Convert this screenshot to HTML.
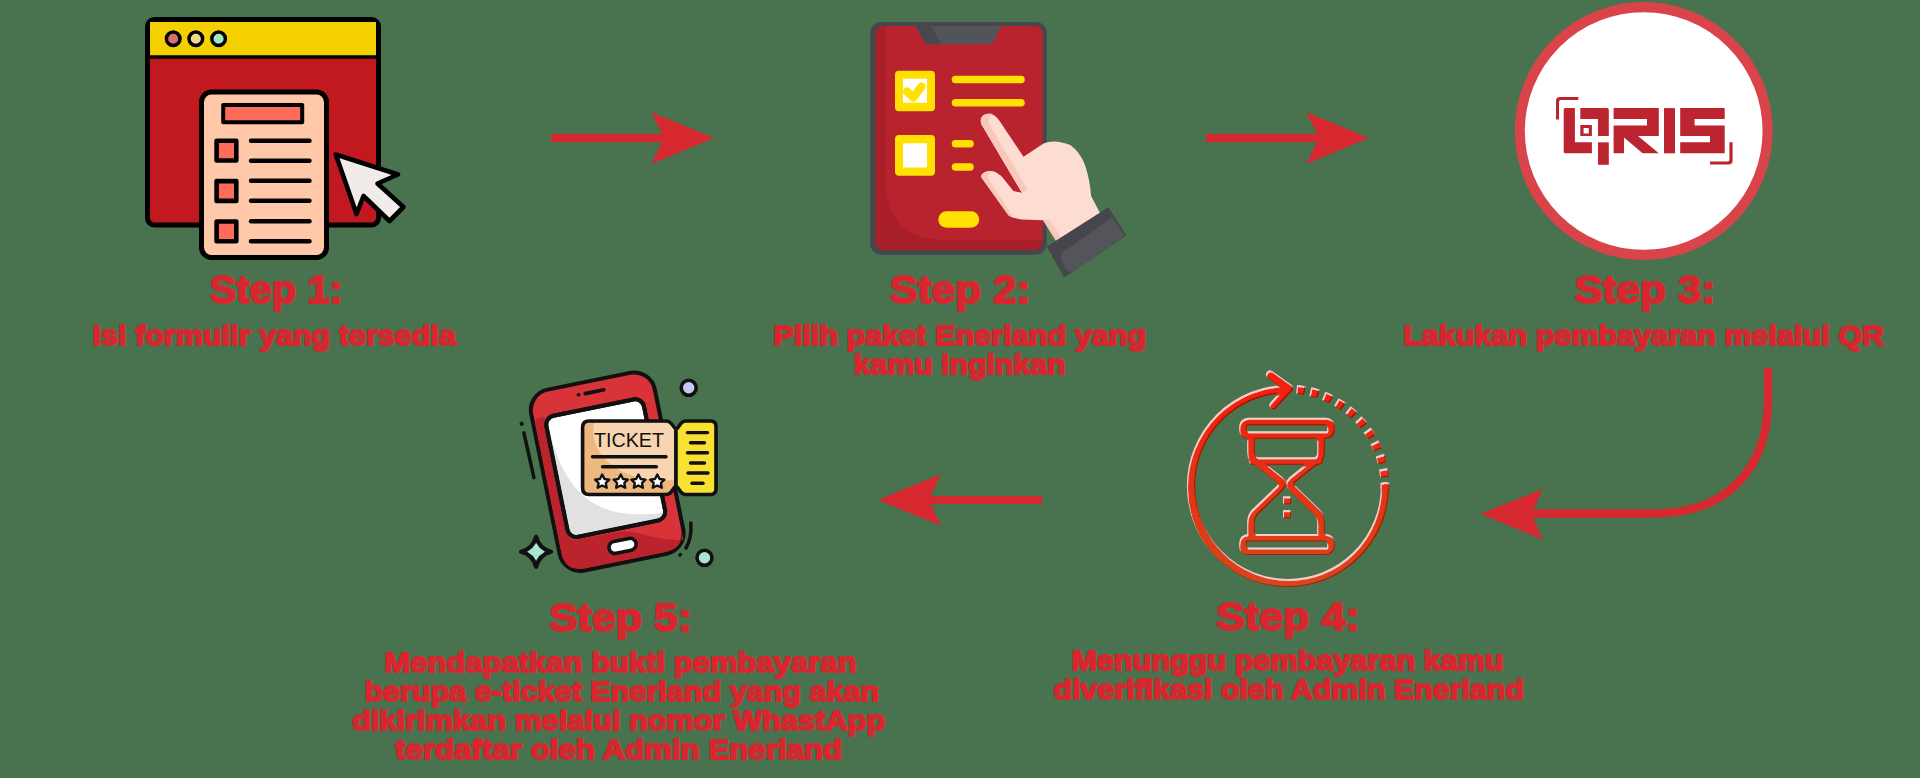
<!DOCTYPE html>
<html><head><meta charset="utf-8">
<style>
html,body{margin:0;padding:0;width:1920px;height:778px;overflow:hidden;background:#48734e;}
svg{display:block;}
text{font-family:"Liberation Sans",sans-serif;font-weight:bold;fill:#d8262f;stroke:#d8262f;stroke-width:1.8px;stroke-linejoin:round;}
</style></head><body>
<svg width="1920" height="778" viewBox="0 0 1920 778">
<defs>
<linearGradient id="hg" gradientUnits="userSpaceOnUse" x1="0" y1="385" x2="0" y2="590">
<stop offset="0" stop-color="#f1200e"/><stop offset="1" stop-color="#d8461c"/>
</linearGradient>
<filter id="emb" x="1150" y="350" width="280" height="260" filterUnits="userSpaceOnUse">
<feOffset in="SourceAlpha" dx="0.6" dy="1.5" result="dn"/>
<feComposite in="SourceAlpha" in2="dn" operator="out" result="topEdge"/>
<feFlood flood-color="#ffffff" flood-opacity="0.6"/>
<feComposite in2="topEdge" operator="in" result="hl"/>
<feOffset in="SourceAlpha" dx="-0.6" dy="-1.5" result="up"/>
<feComposite in="SourceAlpha" in2="up" operator="out" result="botEdge"/>
<feFlood flood-color="#000000" flood-opacity="0.6"/>
<feComposite in2="botEdge" operator="in" result="sh"/>
<feMerge><feMergeNode in="SourceGraphic"/><feMergeNode in="hl"/><feMergeNode in="sh"/></feMerge>
</filter>
</defs>

<!-- ===== STEP 1 ICON ===== -->
<g id="s1" stroke="#000" stroke-linejoin="round">
<rect x="147.5" y="19.5" width="231" height="205.5" rx="7" fill="#c1191f" stroke-width="5"/>
<path d="M150 22 H376 V56.5 H150 Z" fill="#f5d000" stroke="none"/>
<path d="M150 29 Q150 22 157 22 H369 Q376 22 376 29 V56.5 H150Z" fill="#f5d000" stroke="none"/>
<line x1="150" y1="57" x2="376" y2="57" stroke-width="3.5"/>
<circle cx="173.2" cy="38.8" r="6.8" fill="#d9706f" stroke-width="3.5"/>
<circle cx="195.8" cy="38.8" r="6.8" fill="#f5d98a" stroke-width="3.5"/>
<circle cx="218.6" cy="38.8" r="6.8" fill="#9de8c8" stroke-width="3.5"/>
<rect x="201.5" y="92" width="125" height="165.5" rx="10" fill="#ffc8a8" stroke-width="5"/>
<rect x="223.2" y="105" width="79" height="17.2" fill="#ff6b5a" stroke-width="4"/>
<rect x="216.6" y="140.7" width="19.7" height="19.8" fill="#ff6b5a" stroke-width="4.6"/>
<rect x="216.6" y="181.1" width="19.7" height="19.8" fill="#ff6b5a" stroke-width="4.6"/>
<rect x="216.6" y="221.5" width="19.7" height="19.8" fill="#ff6b5a" stroke-width="4.6"/>
<g stroke-width="4.4" stroke-linecap="round">
<line x1="251" y1="140.8" x2="309.5" y2="140.8"/>
<line x1="251" y1="160.8" x2="309.5" y2="160.8"/>
<line x1="251" y1="180.8" x2="309.5" y2="180.8"/>
<line x1="251" y1="200.8" x2="309.5" y2="200.8"/>
<line x1="251" y1="221.3" x2="309.5" y2="221.3"/>
<line x1="251" y1="241.3" x2="309.5" y2="241.3"/>
</g>
<path d="M335.8 154.5 L398 174.5 L377.5 183.5 L403.5 207 L389.5 221 L363.5 196 L356.5 214 Z" fill="#f1ebea" stroke-width="4.6"/>
</g>

<!-- arrows -->
<g fill="#d7272f">
<rect x="551" y="134" width="115" height="8.1"/>
<path d="M651.1 112 L714.1 138 L651.1 164 L664.2 138 Z"/>
<rect x="1206" y="134" width="115" height="8.1"/>
<path d="M1306.1 112 L1369.1 138 L1306.1 164 L1319.2 138 Z"/>
<path d="M1768 368 V400 C1768 470 1725 513.5 1655 513.5 H1530" fill="none" stroke="#d7272f" stroke-width="8.3"/>
<path d="M1480.3 513.8 L1542.9 489 L1531.5 513.8 L1542.9 539.7 Z"/>
</g>

<!-- ===== STEP 2 ICON ===== -->
<g id="s2">
<rect x="870.3" y="22" width="176.4" height="232.7" rx="11" fill="#46474c"/>
<rect x="875.5" y="26" width="167" height="224" rx="8" fill="#a81f2a"/>
<path d="M885.8 26 H1034.5 Q1042.5 26 1042.5 34 V240 H945 Q885.8 240 885.8 180 Z" fill="#b8232e"/>
<path d="M915.3 26 L923.5 40 Q926 44.2 930 44.2 H988 Q992 44.2 994.5 40 L1001.8 26 Z" fill="#535459"/>
<path d="M915.3 26 L923.5 40 Q926 44.2 930 44.2 H941.7 L930.8 26 Z" fill="#47484d"/>
<rect x="895" y="70.8" width="40" height="40.5" rx="4" fill="#ffe000"/>
<rect x="903" y="78.7" width="24" height="24" fill="#fff"/>
<path d="M907 91.5 L913.3 97.5 L921.5 86.5" fill="none" stroke="#ffe000" stroke-width="8" stroke-linecap="round" stroke-linejoin="round"/>
<rect x="895" y="135" width="40" height="40.8" rx="4" fill="#ffe000"/>
<rect x="903" y="143.3" width="24" height="24.2" fill="#fff"/>
<g stroke="#ffe000" stroke-width="7.6" stroke-linecap="round">
<line x1="955.5" y1="79.5" x2="1021" y2="79.5"/>
<line x1="955.5" y1="102.7" x2="1021" y2="102.7"/>
<line x1="955.5" y1="143.8" x2="970" y2="143.8"/>
<line x1="955.5" y1="167" x2="970" y2="167"/>
<line x1="946.5" y1="219.5" x2="971" y2="219.5" stroke-width="16.5"/>
</g>
<!-- hand -->
<path d="M981.4 124.2 Q979 117 985 114.5 Q992 112 998.4 119.2 L1023.5 156.8 L1043.5 143.4 Q1055 139 1070.3 145.1 Q1080 152 1085 165 Q1090 180 1091.1 196 L1100 213.1 L1057 242 L1053.5 235 Q1049 224 1043.5 220.3 L1021.8 219.5 Q1012 218 1008.4 215.3 L980.9 176.8 Q982 171 991.7 171 Q998 172 1003.4 178.5 L1013.4 191 L1021.8 192.7 Z" fill="#fddcd2"/>
<path d="M981.4 124.2 Q979 117 985 114.5 Q989 113 993 114 Q987 117 989 124 L1028 190 L1021.8 192.7 Z" fill="#f8c9bb"/>
<path d="M980.9 176.8 Q982 171 991.7 171 Q986 174 989 180 L1014 218 Q1010 217 1008.4 215.3 Z" fill="#f8c9bb"/>
<path d="M1042.9 220.2 L1050 220.2 L1063 240 L1056.3 241.4 Z" fill="#f8c9bb"/>
<path d="M1046.7 246.5 L1108.4 207.3 L1126.4 235.6 L1064.1 277.4 Z" fill="#46474c"/>
<path d="M1066 250 L1112.2 217.5 L1125 236 L1073 271.5 Q1068 273 1065 268 L1061 258 Q1060 253 1066 250 Z" fill="#54555a"/>
</g>

<!-- ===== STEP 3 ICON ===== -->
<g id="s3">
<circle cx="1643.7" cy="131" r="123.9" fill="#fff" stroke="#d9444b" stroke-width="10.1"/>
<g fill="#bc2530">
<path d="M1556 119.5 V101 Q1556 97.1 1560 97.1 H1578.3 V100.1 H1561 Q1559 100.1 1559 102 V119.5 Z"/>
<path d="M1732.6 142.3 V160.6 Q1732.6 164.6 1728.6 164.6 H1710 V161.4 H1728 Q1729.4 161.4 1729.4 159.5 V142.3 Z"/>
<path d="M1565 108.1 H1574.9 V142.3 H1591.9 V153.3 H1565 Q1563.7 153.3 1563.7 151.5 V110 Q1563.7 108.1 1565 108.1 Z"/>
<path d="M1580.3 108.1 H1607 Q1608.8 108.1 1608.8 110 V135.9 H1598 V119.1 H1580.3 Z"/>
<path d="M1580.3 124.9 H1591.9 V135.9 H1580.3 Z M1583.6 128 V133.4 H1588.8 V128 Z" fill-rule="evenodd"/>
<rect x="1598" y="142.3" width="10.8" height="22.5"/>
<path d="M1613.6 108.1 H1658.8 V135.9 H1638 L1658.8 153.3 H1642.6 L1624 137.5 V153.3 H1613.6 V125.5 H1647 V119.1 H1613.6 Z"/>
<rect x="1664" y="108.1" width="11" height="45.2"/>
<path d="M1680.2 108.1 H1724.7 V119.1 H1694.6 V125.5 H1724.7 V153.3 H1680.2 V142.3 H1710 V135.9 H1680.2 Z"/>
</g>
</g>

<!-- ===== STEP 4 ICON ===== -->
<g id="s4" filter="url(#emb)" fill="none" stroke="url(#hg)" stroke-linecap="round" stroke-linejoin="round">
<path d="M1385 486 A97 97 0 1 1 1288 389" stroke-width="8.2"/>
<path d="M1270 374.5 L1289 388 L1273.5 405" stroke-width="8"/>
<path d="M1296.6 389.4 A97 97 0 0 1 1384.9 489" stroke-width="8.8" stroke-dasharray="8.4 5.6" stroke-linecap="butt"/>
<rect x="1243" y="421.5" width="88" height="13.5" rx="5" stroke-width="7.6"/>
<rect x="1243" y="537.8" width="88" height="13.5" rx="5" stroke-width="7.6"/>
<path d="M1251 438 V452 Q1251 460 1257 461 M1321 438 V452 Q1321 460 1315 461 M1253 461 H1319" stroke-width="7.6"/>
<path d="M1256 461 L1280 480 Q1284 484 1280 488 L1255 512 Q1251 516 1251 522 V534 M1316 461 L1292 480 Q1288 484 1292 488 L1317 512 Q1321 516 1321 522 V534" stroke-width="7.6"/>
<rect x="1283" y="496.3" width="8" height="8" fill="url(#hg)" stroke="none"/>
<rect x="1283" y="510.1" width="8" height="8" fill="url(#hg)" stroke="none"/>
</g>

<!-- ===== STEP 5 ICON ===== -->
<g id="s5" stroke="#111" stroke-linecap="round" stroke-linejoin="round">
<circle cx="688.7" cy="387.8" r="7.5" fill="#c5c8f0" stroke-width="3.6"/>
<circle cx="704.5" cy="557.8" r="7.5" fill="#a8e6cf" stroke-width="3.6"/>
<path d="M536.1 536.8 Q539.1 548.8 551.1 551.8 Q539.1 554.8 536.1 566.8 Q533.1 554.8 521.1 551.8 Q533.1 548.8 536.1 536.8 Z" fill="#a8e6cf" stroke-width="4.2"/>
<line x1="521.6" y1="423.6" x2="521.8" y2="423.8" stroke-width="4"/>
<line x1="523.9" y1="432.9" x2="533.9" y2="477.6" stroke-width="3.5"/>
<path d="M690.8 523 Q692 538 686 548" fill="none" stroke-width="3.5"/><line x1="680" y1="555" x2="680.3" y2="554.6" stroke-width="3.5"/>
<g transform="translate(607.2,471.6) rotate(-11.5)">
<rect x="-63" y="-92.2" width="126" height="184.5" rx="21" fill="#d9333a" stroke-width="4"/>
<path d="M-61 -64 Q-57 -68 -50.5 -66 V54 Q-50.5 61 -40 61 H-8 Q10 61 25 70 Q45 80 61 82 V71 Q61 90.3 41 90.3 H-41 Q-61 90.3 -61 71 Z" fill="#bb242c" stroke="none"/>
<rect x="-50.5" y="-65.5" width="99.5" height="123.5" rx="9" fill="#fff" stroke-width="4"/>
<path d="M-48.5 -61 C -48 15, -20 47, 47 51.5 V48 Q47 56 39 56 H-40.5 Q-48.5 56 -48.5 48 Z" fill="#e1e1e1" stroke="none"/>
<rect x="-50.5" y="-65.5" width="99.5" height="123.5" rx="9" fill="none" stroke-width="4"/>
<rect x="-13.5" y="69.8" width="27.5" height="12" rx="6" fill="#fff" stroke-width="3.6"/>
<line x1="-6" y1="-80.8" x2="13" y2="-80.8" stroke-width="3.6"/>
<line x1="-12.9" y1="-81" x2="-12.6" y2="-81" stroke-width="3.6"/>
</g>
<!-- ticket -->
<path d="M589 421 H666 Q669.5 421 671.5 424 L674 427.5 Q675 429 676 429 V486.5 Q675 486.5 674 488 L671.5 491.5 Q669.5 494.5 666 494.5 H589 Q582.6 494.5 582.6 488 V427.5 Q582.6 421 589 421 Z" fill="#eeb77e" stroke-width="3.6"/>
<path d="M594 423 H666 Q669 423 671 426 L674.2 430 V480 Q630 482 608 462 Q590 445 594 423 Z" fill="#f8d5b0" stroke="none"/>
<path d="M676 429 Q677 429 678 427.5 L680.5 424 Q682.5 421 686 421 H710.5 Q716 421 716 426.5 V489 Q716 494.5 710.5 494.5 H686 Q682.5 494.5 680.5 491.5 L678 488 Q677 486.5 676 486.5 Z" fill="#f9e132" stroke-width="3.6"/>
<g stroke-width="3.4">
<line x1="592.5" y1="456.8" x2="666" y2="456.8"/>
<line x1="602.5" y1="466.7" x2="656.5" y2="466.7"/>
<line x1="687.5" y1="432.6" x2="707.5" y2="432.6"/>
<line x1="690.5" y1="442.7" x2="704.5" y2="442.7"/>
<line x1="687.5" y1="452.8" x2="707.5" y2="452.8"/>
<line x1="690.5" y1="463" x2="704.5" y2="463"/>
<line x1="688" y1="473" x2="708" y2="473"/>
<line x1="692" y1="483.2" x2="703" y2="483.2"/>
</g>
<g fill="#fff" stroke-width="2.4">
<path id="star" d="M602.2 474.5 L604.5 479 L609.3 479.6 L605.8 483 L606.7 487.8 L602.2 485.5 L597.7 487.8 L598.6 483 L595.1 479.6 L599.9 479 Z"/>
<use href="#star" x="18.5"/>
<use href="#star" x="36.2"/>
<use href="#star" x="55.1"/>
</g>
<text x="594" y="447.2" textLength="70" lengthAdjust="spacingAndGlyphs" style="font-weight:normal;fill:#111;stroke:none;font-size:20px">TICKET</text>
</g>

<!-- ===== TEXT ===== -->
<text x="209.6" y="302.7" font-size="38.4" textLength="133.2" lengthAdjust="spacingAndGlyphs">Step 1:</text>
<text x="92.6" y="345.4" font-size="28.5" textLength="363.3" lengthAdjust="spacingAndGlyphs">Isi formulir yang tersedia</text>

<text x="889.6" y="303.3" font-size="38.4" textLength="140.9" lengthAdjust="spacingAndGlyphs">Step 2:</text>
<text x="773.3" y="345.4" font-size="28.5" textLength="372.9" lengthAdjust="spacingAndGlyphs">Pilih paket Enerland yang</text>
<text x="853.6" y="374.4" font-size="28.5" textLength="212.0" lengthAdjust="spacingAndGlyphs">kamu inginkan</text>

<text x="1574.2" y="302.5" font-size="38.4" textLength="141.2" lengthAdjust="spacingAndGlyphs">Step 3:</text>
<text x="1403.2" y="345.4" font-size="28.5" textLength="480.8" lengthAdjust="spacingAndGlyphs">Lakukan pembayaran melalui QR</text>

<text x="1216.0" y="630.4" font-size="38.4" textLength="143.8" lengthAdjust="spacingAndGlyphs">Step 4:</text>
<text x="1071.5" y="670.1" font-size="28.5" textLength="432.1" lengthAdjust="spacingAndGlyphs">Menunggu pembayaran kamu</text>
<text x="1053.6" y="699.4" font-size="28.5" textLength="470.4" lengthAdjust="spacingAndGlyphs">diverifikasi oleh Admin Enerland</text>

<text x="549.0" y="630.8" font-size="38.4" textLength="143.0" lengthAdjust="spacingAndGlyphs">Step 5:</text>
<text x="384.3" y="672.3" font-size="28.5" textLength="472.3" lengthAdjust="spacingAndGlyphs">Mendapatkan bukti pembayaran</text>
<text x="364.4" y="701.3" font-size="28.5" textLength="514.8" lengthAdjust="spacingAndGlyphs">berupa e-ticket Enerland yang akan</text>
<text x="352.2" y="730.1" font-size="28.5" textLength="533.0" lengthAdjust="spacingAndGlyphs">dikirimkan melalui nomor WhastApp</text>
<text x="395.1" y="759.1" font-size="28.5" textLength="447.1" lengthAdjust="spacingAndGlyphs">terdaftar oleh Admin Enerland</text>

<!-- left arrow step4->5 -->
<g fill="#d7272f">
<rect x="928" y="496.1" width="114" height="7.8"/>
<path d="M878 500 L940.8 474.1 L929 500 L940.8 525.8 Z"/>
</g>
</svg>
</body></html>
